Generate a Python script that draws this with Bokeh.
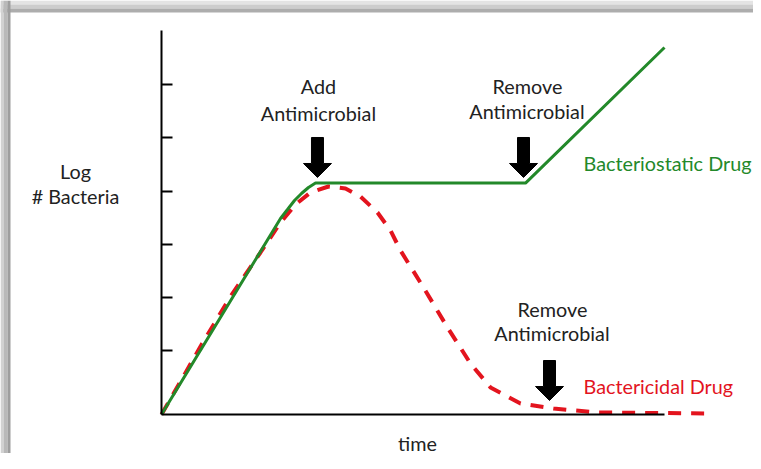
from bokeh.plotting import figure
from bokeh.models import Range1d, Label, FixedTicker, BoxAnnotation
from bokeh.embed import file_html
from bokeh.resources import INLINE

# ---- data (time units, log # bacteria units) ----
static_t = [0.0, 2.366, 2.505, 2.644, 2.783, 2.922, 3.062, 7.237, 10.0]
static_y = [0.0, 3.684, 3.853, 4.023, 4.154, 4.267, 4.35, 4.35, 6.898]

cidal_t = [0.0, 0.378, 0.775, 1.372, 1.968, 2.366, 2.664, 2.962, 3.320, 3.658,
           3.956, 4.294, 4.553, 4.751, 5.209, 5.686, 6.143, 6.541, 7.137, 7.793,
           8.668, 10.875]
cidal_y = [0.0, 0.620, 1.278, 2.218, 3.045, 3.609, 3.947, 4.173, 4.286, 4.248,
           4.098, 3.797, 3.459, 3.083, 2.387, 1.635, 0.959, 0.508, 0.207, 0.113,
           0.038, 0.019]

y_ticks = [1.2, 2.2, 3.2, 4.2, 5.2, 6.2]

arrow_x = [3.101, 7.197, 7.714]
arrow_tail = [5.207, 5.207, 1.015]
arrow_tip = [4.455, 4.455, 0.263]

# ---- geometry ----
W, H = 753, 453
PX_X, PX_Y = 50.3, 53.2            # pixels per data unit
OX, OY = 161, 414                  # origin position on the canvas
XR = ((0 - OX) / PX_X, (W - OX) / PX_X)
YR = ((OY - H) / PX_Y, (OY - 0) / PX_Y)

def dx(px):
    return (px - OX) / PX_X

def dy(py):
    return (OY - py) / PX_Y

p = figure(width=W, height=H, output_backend="svg", toolbar_location=None,
           x_range=Range1d(*XR), y_range=Range1d(*YR),
           x_axis_location="above", min_border=0,
           min_border_left=0, min_border_bottom=0, min_border_top=0,
           min_border_right=0)
p.grid.visible = False
p.outline_line_color = None
p.background_fill_color = "white"
p.border_fill_color = "white"

# shaded window edge (top and left), light to dark toward the page
for (a, b, c) in [(0, 4, "#e4e4e4"), (4, 8, "#cdcdcd"), (8, 12, "#adadad")]:
    p.add_layout(BoxAnnotation(top=dy(a), bottom=dy(b), fill_color=c,
                               fill_alpha=1, line_color=None, level="underlay"))
for (a, b, c) in [(0, 3, "#d2d2d2"), (3, 7, "#b9b9b9"), (7, 10, "#9e9e9e")]:
    p.add_layout(BoxAnnotation(left=dx(a), right=dx(b), fill_color=c,
                               fill_alpha=1, line_color=None, level="underlay"))

# axes drawn through the origin
p.yaxis.fixed_location = 0
p.yaxis.ticker = FixedTicker(ticks=y_ticks)
p.yaxis.major_label_overrides = {t: "" for t in y_ticks}
p.yaxis.major_label_standoff = 0
p.yaxis.major_tick_in = 11
p.yaxis.major_tick_out = 0
p.yaxis.minor_tick_line_color = None
p.yaxis.major_tick_line_width = 2
p.yaxis.major_tick_line_color = "black"
p.yaxis.axis_line_width = 2
p.yaxis.axis_line_color = "black"
p.yaxis.bounds = (0, 7.22)
p.yaxis.major_label_text_font_size = "0px"

p.xaxis.fixed_location = 0
p.xaxis.ticker = FixedTicker(ticks=[])
p.xaxis.major_label_standoff = 0
p.xaxis.major_tick_line_color = None
p.xaxis.minor_tick_line_color = None
p.xaxis.axis_line_width = 2
p.xaxis.axis_line_color = "black"
p.xaxis.bounds = (0, 10)
p.xaxis.major_label_text_font_size = "0px"

GREEN = "#23892A"
RED = "#E3141E"

p.line(cidal_t, cidal_y, line_color=RED, line_width=4, line_dash="13 10")
p.line(static_t, static_y, line_color=GREEN, line_width=3)

# arrows as filled polygons
hw, HW, hh = 6.0 / PX_X, 14.0 / PX_X, 14.0 / PX_Y
xs, ys = [], []
for x, t0, t1 in zip(arrow_x, arrow_tail, arrow_tip):
    xs.append([x - hw, x + hw, x + hw, x + HW, x, x - HW, x - hw])
    ys.append([t0, t0, t1 + hh, t1 + hh, t1, t1 + hh, t1 + hh])
p.patches(xs, ys, fill_color="black", line_color="black", line_width=1)

FONT = "Lato"
FS = "19.8px"

def lab(x, y, text, color="#222222", align="center"):
    p.add_layout(Label(x=x, y=y, text=text, text_font=FONT, text_font_size=FS,
                       text_color=color, text_align=align,
                       text_baseline="alphabetic"))

lab(3.121, 6.184, "Add")
lab(3.121, 5.676, "Antimicrobial")
lab(7.276, 6.184, "Remove")
lab(7.266, 5.714, "Antimicrobial")
lab(7.773, 1.992, "Remove")
lab(7.763, 1.541, "Antimicrobial")
lab(8.390, 4.736, "Bacteriostatic Drug", color=GREEN, align="left")
lab(8.390, 0.545, "Bactericidal Drug", color=RED, align="left")
lab(-1.710, 4.586, "Log")
lab(-1.710, 4.116, "# Bacteria")
lab(5.089, -0.540, "time")

open("out.html", "w").write(file_html(p, INLINE))
